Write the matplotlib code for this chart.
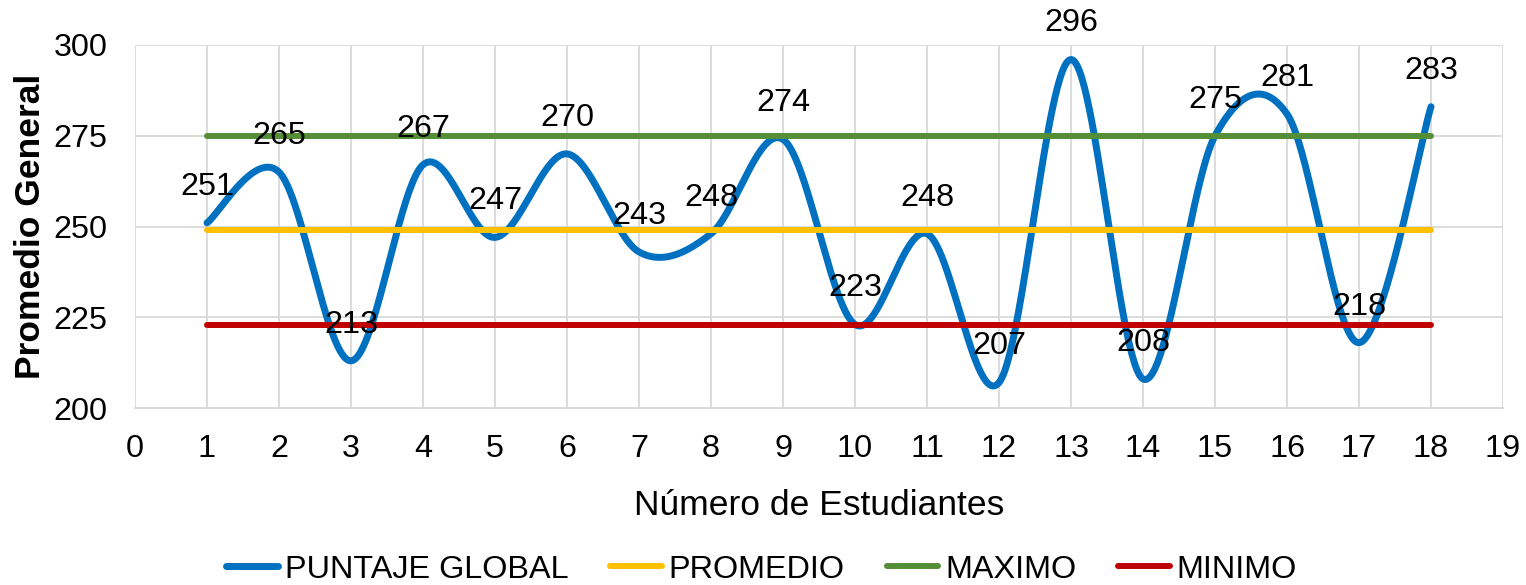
import numpy as np
import matplotlib
matplotlib.use("Agg")
import matplotlib.pyplot as plt

plt.rcParams['font.family'] = ['Liberation Sans', 'DejaVu Sans']

students = list(range(1, 19))
puntaje = [251, 265, 213, 267, 247, 270, 243, 248, 274, 223, 248, 207, 296, 208, 275, 281, 218, 283]
promedio_val = 249
maximo_val = 275
minimo_val = 223
xticks = list(range(0, 20))
yticks = [200, 225, 250, 275, 300]

C_BLUE = '#0070C0'
C_YELLOW = '#FFC000'
C_GREEN = '#548F38'
C_RED = '#C00000'
C_GRID = '#D9D9D9'
FS = 23.3
FS_TITLE = 25.5


def smooth(xs, ys, n=60):
    P = np.column_stack([np.asarray(xs, float), np.asarray(ys, float)])
    Pe = np.vstack([P[0], P, P[-1]])
    out = []
    t = np.linspace(0, 1, n)[:, None]
    for i in range(len(P) - 1):
        p0, p3 = P[i], P[i + 1]
        c1 = p0 + (Pe[i + 2] - Pe[i]) / 6.0
        c2 = p3 - (Pe[i + 3] - Pe[i + 1]) / 6.0
        seg = ((1 - t) ** 3) * p0 + 3 * ((1 - t) ** 2) * t * c1 + 3 * (1 - t) * t ** 2 * c2 + t ** 3 * p3
        out.append(seg if i == 0 else seg[1:])
    s = np.vstack(out)
    return s[:, 0], s[:, 1]


fig = plt.figure(figsize=(15.26, 5.85), dpi=100)
ax = fig.add_axes([135 / 1526, 1 - 408 / 585, (1503 - 135) / 1526, (408 - 45) / 585])

sx, sy = smooth(students, puntaje)
ax.plot(sx, sy, color=C_BLUE, lw=5.0, solid_capstyle='round', label='PUNTAJE GLOBAL', zorder=3)
ax.plot([students[0], students[-1]], [promedio_val] * 2, color=C_YELLOW, lw=4.3,
        solid_capstyle='round', label='PROMEDIO', zorder=4)
ax.plot([students[0], students[-1]], [maximo_val] * 2, color=C_GREEN, lw=4.3,
        solid_capstyle='round', label='MAXIMO', zorder=4)
ax.plot([students[0], students[-1]], [minimo_val] * 2, color=C_RED, lw=4.3,
        solid_capstyle='round', label='MINIMO', zorder=4)

for x, y in zip(students, puntaje):
    ax.annotate(str(y), (x, y), xytext=(0, 26), textcoords='offset points',
                ha='center', va='center', fontsize=FS, color='black', zorder=6)

ax.set_xlim(0, 19)
ax.set_ylim(200, 300)
ax.set_xticks(xticks)
ax.set_yticks(yticks)
ax.tick_params(axis='both', length=0, labelsize=FS, colors='black')
ax.tick_params(axis='x', pad=19)
ax.tick_params(axis='y', pad=20)
ax.grid(True, color=C_GRID, lw=1.3, zorder=0)
ax.set_axisbelow(True)
for sp in ax.spines.values():
    sp.set_visible(False)
ax.spines['bottom'].set_visible(True)
ax.spines['bottom'].set_color(C_GRID)
ax.spines['bottom'].set_linewidth(1.3)

ax.set_xlabel('Número de Estudiantes', fontsize=FS_TITLE, labelpad=18)
ax.set_ylabel('Promedio General', fontsize=FS_TITLE, fontweight='bold')
ax.yaxis.set_label_coords(-0.0645, 0.5)

fig.legend(loc='center', bbox_to_anchor=(0.499, 0.026), ncol=4, frameon=False,
           fontsize=FS, handlelength=1.6, handletextpad=0.2, columnspacing=1.3)

fig.savefig('out.png', dpi=100)
